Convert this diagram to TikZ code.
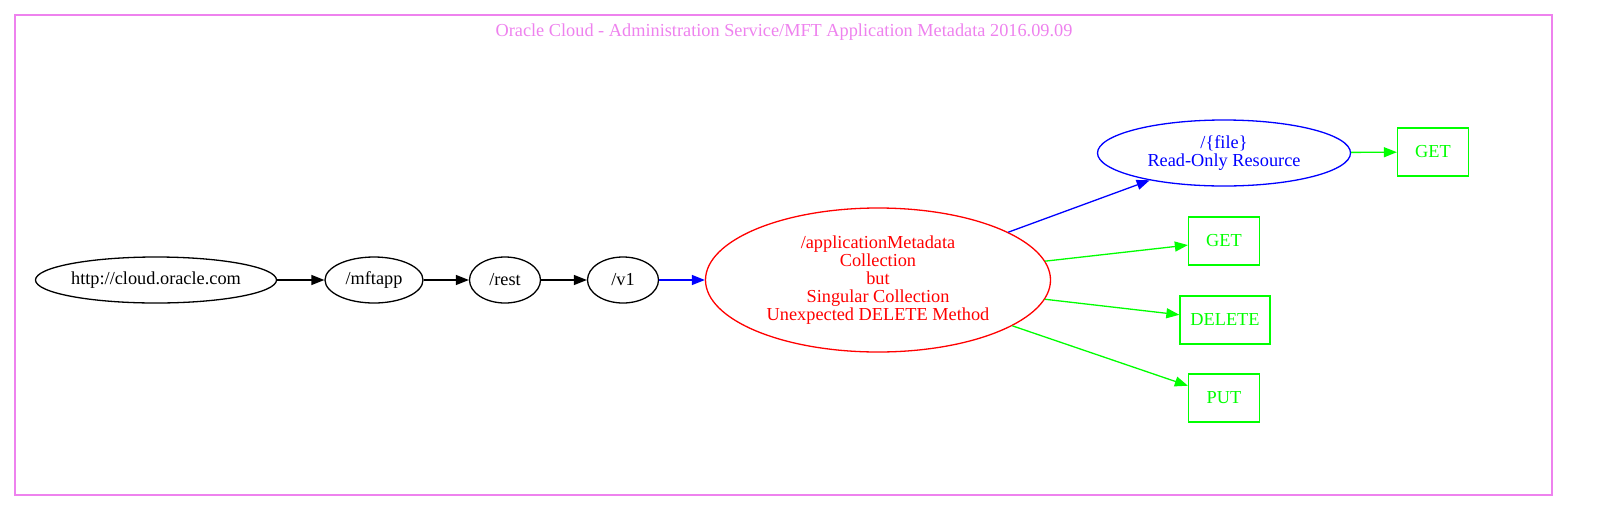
\documentclass[tikz,border=0pt]{standalone}
\usepackage{fontspec}
\setmainfont{Liberation Serif}
\usepackage{xcolor}
\usetikzlibrary{arrows.meta,shapes.geometric}
\definecolor{clusterpink}{RGB}{238,130,238}
\tikzset{
  res/.style={ellipse,draw,inner sep=0pt,align=center,line width=1.3pt},
  verb/.style={rectangle,draw=green,text=green,inner sep=0pt,line width=1.3pt,
    minimum width=71pt,minimum height=48pt},
  link/.style={-{Triangle[length=13pt,width=10pt]},line width=1.3pt},
}

\begin{document}
\begin{tikzpicture}[x=1pt,y=-1pt,font=\fontsize{18.3}{17.8}\selectfont]
\useasboundingbox (0,0) rectangle (1597,520);
\draw[clusterpink,line width=1.3pt] (15,15) rectangle (1552,495);
\node[text=clusterpink] (title) at (784,32) {Oracle Cloud - Administration Service/MFT Application Metadata 2016.09.09};

\node[res,minimum width=241pt,minimum height=46pt] (root) at (156,280) {http://cloud.oracle.com};
\node[res,minimum width=98pt,minimum height=46pt] (mftapp) at (374,280) {/mftapp};
\node[res,minimum width=71pt,minimum height=46pt] (rest) at (505,280) {/rest};
\node[res,minimum width=71pt,minimum height=46pt] (v1) at (623,280) {/v1};
\node[res,draw=red,text=red,minimum width=345pt,minimum height=144pt] (appmeta) at (878,280)
  {/applicationMetadata\\Collection\\but\\Singular Collection\\Unexpected DELETE Method};
\node[res,draw=blue,text=blue,minimum width=253pt,minimum height=66pt] (file) at (1224,153)
  {/\{file\}\\Read-Only Resource};
\node[verb] (fileget) at (1433,152) {GET};
\node[verb] (get) at (1224,241) {GET};
\node[verb,minimum width=90pt] (delete) at (1225,320) {DELETE};
\node[verb] (put) at (1224,398) {PUT};

\path[link]
(root) edge (mftapp)
(mftapp) edge (rest)
(rest) edge (v1)
(v1) edge[blue] (appmeta)
(appmeta) edge[blue] (file)
(file) edge[green] (fileget)
(appmeta) edge[green] (get)
(appmeta) edge[green] (delete)
(appmeta) edge[green] (put);
\end{tikzpicture}
\end{document}
